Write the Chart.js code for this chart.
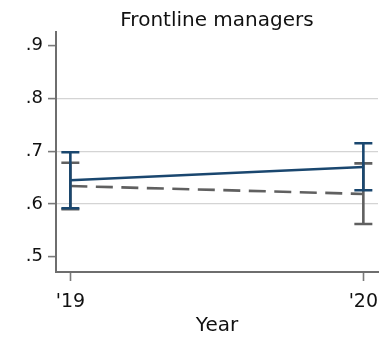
<!DOCTYPE html>
<html>
<head>
<meta charset="utf-8">
<script src="https://cdn.jsdelivr.net/npm/chart.js@4.4.1/dist/chart.umd.min.js"></script>
<style>
  html, body { margin: 0; padding: 0; background: #fff; }
  #wrap { width: 381px; height: 339px; }
</style>
</head>
<body>
<div id="wrap"><canvas id="c" width="381" height="339"></canvas></div>
<script>
// Survey years and estimated shares with 95% confidence bounds
const years = [2019, 2020];
const seriesA = [0.645, 0.670];     // solid navy series
const seriesALow = [0.592, 0.626];
const seriesAHigh = [0.698, 0.715];
const seriesB = [0.634, 0.619];     // dashed gray series
const seriesBLow = [0.590, 0.562];
const seriesBHigh = [0.678, 0.677];
const yTicks = [0.5, 0.6, 0.7, 0.8, 0.9];
const yGrid = [0.6, 0.7, 0.8];
const chartTitle = 'Frontline managers';
const xTitle = 'Year';

const NAVY = '#1a476f';
const GRAY = '#606060';
const FONT = "'DejaVu Sans', sans-serif";

const toPoints = (vals) => years.map((yr, i) => ({ x: yr, y: vals[i] }));

const bands = [
  { low: seriesALow, high: seriesAHigh, color: NAVY },
  { low: seriesBLow, high: seriesBHigh, color: GRAY }
];

// Draw each dataset's confidence intervals right after its line
const errorBars = {
  id: 'errorBars',
  afterDatasetDraw(chart, args) {
    const band = bands[args.index];
    if (!band) return;
    const { ctx, scales: { x, y } } = chart;
    ctx.save();
    ctx.strokeStyle = band.color;
    ctx.lineWidth = 2.6;
    ctx.lineCap = 'butt';
    years.forEach((yr, i) => {
      const px = x.getPixelForValue(yr);
      const lo = y.getPixelForValue(band.low[i]);
      const hi = y.getPixelForValue(band.high[i]);
      ctx.beginPath();
      ctx.moveTo(px, lo); ctx.lineTo(px, hi);
      ctx.moveTo(px - 9, lo); ctx.lineTo(px + 9, lo);
      ctx.moveTo(px - 9, hi); ctx.lineTo(px + 9, hi);
      ctx.stroke();
    });
    ctx.restore();
  }
};

// Title centred over the plot area rather than the whole canvas
const plotTitle = {
  id: 'plotTitle',
  afterDraw(chart) {
    const { ctx, chartArea } = chart;
    ctx.save();
    ctx.fillStyle = '#111';
    ctx.font = '20px ' + FONT;
    ctx.textAlign = 'center';
    ctx.textBaseline = 'alphabetic';
    ctx.fillText(chartTitle, (chartArea.left + chartArea.right) / 2, 26);
    ctx.restore();
  }
};

new Chart(document.getElementById('c'), {
  type: 'line',
  data: {
    datasets: [
      {
        label: 'Series A',
        data: toPoints(seriesA),
        borderColor: NAVY,
        borderWidth: 2.6,
        pointRadius: 0,
        tension: 0,
        order: 1
      },
      {
        label: 'Series B',
        data: toPoints(seriesB),
        borderColor: GRAY,
        borderWidth: 2.6,
        borderDash: [17, 8.5],
        pointRadius: 0,
        tension: 0,
        order: 2
      }
    ]
  },
  options: {
    responsive: false,
    animation: false,
    devicePixelRatio: 1,
    layout: { padding: { left: 0, right: 3, top: 32, bottom: 0 } },
    plugins: {
      legend: { display: false },
      tooltip: { enabled: false },
      title: { display: false }
    },
    scales: {
      x: {
        type: 'linear',
        min: 2018.951,
        max: 2020.05,
        afterBuildTicks: (s) => { s.ticks = years.map(v => ({ value: v })); },
        afterFit: (s) => { s.height = 67; s.paddingLeft = 0; s.paddingRight = 0; },
        ticks: {
          autoSkip: false,
          maxRotation: 0,
          padding: 10,
          color: '#111',
          font: { family: FONT, size: 19 },
          callback: (v) => "'" + String(v).slice(2)
        },
        grid: {
          drawOnChartArea: false,
          drawTicks: true,
          tickLength: 9,
          tickColor: '#7a7a7a',
          tickWidth: 1.6
        },
        border: { color: '#6e6e6e', width: 2 },
        title: {
          display: true,
          text: xTitle,
          color: '#111',
          font: { family: FONT, size: 20 },
          padding: { top: 0, bottom: 1 }
        }
      },
      y: {
        min: 0.471,
        max: 0.926,
        afterBuildTicks: (s) => { s.ticks = yTicks.map(v => ({ value: v })); },
        afterFit: (s) => { s.width = 56; s.paddingTop = 0; s.paddingBottom = 0; },
        ticks: {
          padding: 5,
          color: '#111',
          font: { family: FONT, size: 18 },
          callback: (v) => v.toFixed(1).replace(/^0/, '')
        },
        grid: {
          color: (ctx) => (ctx.tick && yGrid.some(g => Math.abs(g - ctx.tick.value) < 1e-9)) ? '#d4d4d4' : 'rgba(0,0,0,0)',
          lineWidth: 1.2,
          drawTicks: true,
          tickLength: 8,
          tickColor: '#7a7a7a',
          tickWidth: 1.6
        },
        border: { color: '#6e6e6e', width: 2 }
      }
    }
  },
  plugins: [errorBars, plotTitle]
});
</script>
</body>
</html>
